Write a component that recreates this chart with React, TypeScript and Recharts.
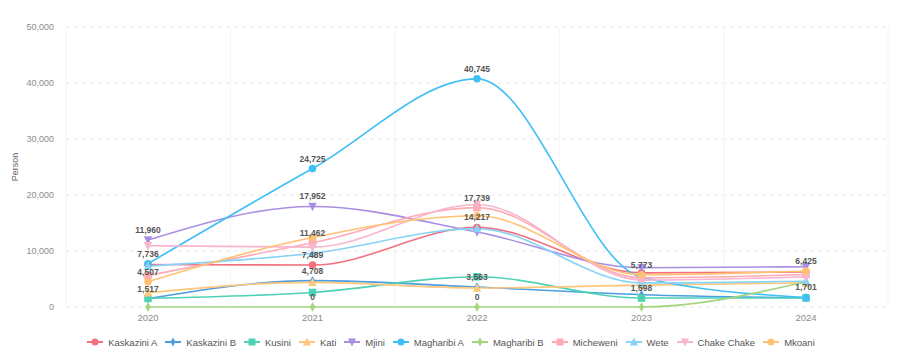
import React from 'react';
import { LineChart, Line, XAxis, YAxis, CartesianGrid } from 'recharts';

const years = ['2020', '2021', '2022', '2023', '2024'];
const yTicks = [0, 10000, 20000, 30000, 40000, 50000];

const kaskaziniA = [7600, 7489, 14217, 6100, 6250];
const kaskaziniB = [1500, 4708, 3563, 2200, 1650];
const kusini = [1517, 2600, 5400, 1598, 1600];
const kati = [2550, 4400, 3400, 3900, 4300];
const mjini = [11960, 17952, 13400, 7000, 7200];
const magharibiA = [7736, 24725, 40745, 5300, 1701];
const magharibiB = [0, 0, 0, 0, 4500];
const micheweni = [5600, 11462, 17739, 5200, 5800];
const wete = [7300, 9600, 14000, 4300, 4600];
const chakeChake = [10950, 10700, 18300, 4800, 5400];
const mkoani = [4507, 12400, 16300, 5773, 6425];

type Shape = 'circle' | 'diamond' | 'square' | 'triangle' | 'invTriangle';

const seriesList: { key: string; name: string; values: number[]; color: string; shape: Shape; labels: number[] }[] = [
  { key: 'kaskaziniA', name: 'Kaskazini A', values: kaskaziniA, color: '#f3717f', shape: 'circle', labels: [1, 2] },
  { key: 'kaskaziniB', name: 'Kaskazini B', values: kaskaziniB, color: '#4b9fe1', shape: 'diamond', labels: [1, 2] },
  { key: 'kusini', name: 'Kusini', values: kusini, color: '#4fd1b5', shape: 'square', labels: [0, 3] },
  { key: 'kati', name: 'Kati', values: kati, color: '#ffc77b', shape: 'triangle', labels: [] },
  { key: 'mjini', name: 'Mjini', values: mjini, color: '#a98fe2', shape: 'invTriangle', labels: [0, 1] },
  { key: 'magharibiA', name: 'Magharibi A', values: magharibiA, color: '#3fbff5', shape: 'circle', labels: [0, 1, 2, 4] },
  { key: 'magharibiB', name: 'Magharibi B', values: magharibiB, color: '#a2d67c', shape: 'diamond', labels: [1, 2] },
  { key: 'micheweni', name: 'Micheweni', values: micheweni, color: '#ffabb3', shape: 'square', labels: [1, 2] },
  { key: 'wete', name: 'Wete', values: wete, color: '#86d3f6', shape: 'triangle', labels: [] },
  { key: 'chakeChake', name: 'Chake Chake', values: chakeChake, color: '#f8b5cd', shape: 'invTriangle', labels: [] },
  { key: 'mkoani', name: 'Mkoani', values: mkoani, color: '#ffc274', shape: 'circle', labels: [0, 3, 4] },
];

const rows = years.map((year, i) => {
  const row: Record<string, any> = { year };
  seriesList.forEach((s) => {
    row[s.key] = s.values[i];
  });
  return row;
});

const font = '"Liberation Sans", Arial, sans-serif';

function Marker({ shape, cx, cy, color, size }: { shape: Shape; cx: number; cy: number; color: string; size: number }) {
  const h = size / 2;
  switch (shape) {
    case 'circle':
      return <circle cx={cx} cy={cy} r={h} fill={color} />;
    case 'square':
      return <rect x={cx - h} y={cy - h} width={size} height={size} fill={color} />;
    case 'diamond':
      return <polygon points={`${cx},${cy - h - 1} ${cx + h - 1},${cy} ${cx},${cy + h + 1} ${cx - h + 1},${cy}`} fill={color} />;
    case 'triangle':
      return <polygon points={`${cx},${cy - h - 1} ${cx + h + 0.5},${cy + h} ${cx - h - 0.5},${cy + h}`} fill={color} />;
    case 'invTriangle':
      return <polygon points={`${cx},${cy + h + 1} ${cx + h + 0.5},${cy - h} ${cx - h - 0.5},${cy - h}`} fill={color} />;
  }
  return null;
}

const fmt = (v: number) => v.toLocaleString('en-US');

export default function App() {
  const width = 902;
  const height = 363;
  return (
    <div style={{ position: 'absolute', left: 0, top: 0, width, height, background: '#fff' }}>
      <LineChart width={width} height={height} data={rows} margin={{ top: 27, right: 14, left: 0, bottom: 36 }}>
        <CartesianGrid vertical={false} stroke="#e8e8e8" strokeDasharray="4 4" />
        <CartesianGrid
          horizontal={false}
          stroke="#f4f4f4"
          verticalCoordinatesGenerator={(p: any) => {
            const left = p?.offset?.left ?? 66;
            const w = p?.offset?.width ?? 822;
            return years.map((_, i) => left + (w * i) / years.length).concat(left + w);
          }}
        />
        <XAxis
          dataKey="year"
          height={20}
          axisLine={false}
          tickLine={false}
          tickSize={0}
          tickMargin={7}
          padding={{ left: 82, right: 82 }}
          tick={{ fontSize: 9.5, fill: '#8c8c8c', fontFamily: font }}
        />
        <YAxis
          width={66}
          domain={[0, 50000]}
          ticks={yTicks}
          axisLine={false}
          tickLine={false}
          tickSize={0}
          tickMargin={12}
          tickFormatter={fmt}
          tick={{ fontSize: 9, fill: '#8c8c8c', fontFamily: font }}
          label={{ value: 'Person', angle: -90, position: 'insideLeft', offset: 15, style: { fontSize: 9, fill: '#666', fontFamily: font, textAnchor: 'middle' } }}
        />
        {seriesList.map((s) => (
          <Line
            key={s.key}
            dataKey={s.key}
            name={s.name}
            type="monotone"
            stroke={s.color}
            strokeWidth={1.6}
            isAnimationActive={false}
            dot={(p: any) => <Marker key={`${s.key}-${p.index}`} shape={s.shape} cx={p.cx} cy={p.cy} color={s.color} size={7.5} />}
            activeDot={false}
            label={(p: any) =>
              s.labels.includes(p.index) ? (
                <text
                  key={`${s.key}-l-${p.index}`}
                  x={p.x}
                  y={p.y - 7}
                  textAnchor="middle"
                  fontSize={8.5}
                  fontWeight="bold"
                  fill="#555"
                  fontFamily={font}
                >
                  {fmt(p.value)}
                </text>
              ) : (
                <g key={`${s.key}-l-${p.index}`} />
              )
            }
          />
        ))}
      </LineChart>
      <div
        style={{
          position: 'absolute',
          left: 0,
          top: 335,
          width,
          display: 'flex',
          justifyContent: 'center',
          gap: 8,
          fontFamily: font,
          fontSize: 9.5,
          color: '#555',
        }}
      >
        {seriesList.map((s) => (
          <div key={s.key} style={{ display: 'flex', alignItems: 'center', height: 14 }}>
            <svg width={16} height={10} style={{ marginRight: 5 }}>
              <line x1={0} y1={5} x2={16} y2={5} stroke={s.color} strokeWidth={2} />
              <Marker shape={s.shape} cx={8} cy={5} color={s.color} size={7} />
            </svg>
            <span>{s.name}</span>
          </div>
        ))}
      </div>
    </div>
  );
}
